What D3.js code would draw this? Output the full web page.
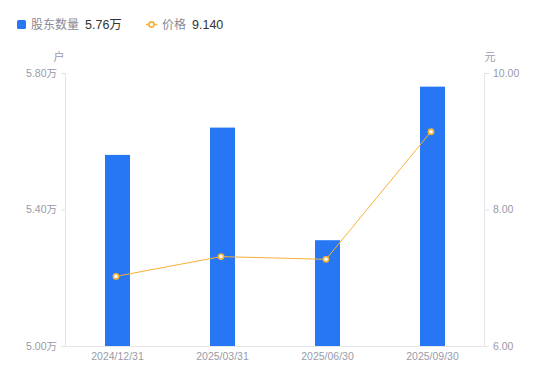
<!DOCTYPE html>
<html>
<head>
<meta charset="utf-8">
<script src="https://cdn.jsdelivr.net/npm/d3@7/dist/d3.min.js"></script>
<style>
html,body{margin:0;padding:0;background:#fff;}
svg{display:block;font-family:"Liberation Sans","Noto Sans CJK SC",sans-serif;}
</style>
</head>
<body>
<svg id="chart" width="550" height="381"></svg>
<script>
const categories = ["2024/12/31", "2025/03/31", "2025/06/30", "2025/09/30"];
const holders = [5.56, 5.64, 5.31, 5.76];   // 万户
const prices = [7.02, 7.31, 7.27, 9.14];     // 元
const leftTicks = [5.00, 5.40, 5.80];
const rightTicks = [6.00, 8.00, 10.00];

const FONT = "'Liberation Sans','Noto Sans CJK SC',sans-serif";
const svg = d3.select("#chart");
const W = 550, H = 381;
const m = {left: 65, right: 65, top: 73, bottom: 35};
const plotW = W - m.left - m.right;
const plotH = H - m.top - m.bottom;

const x = d3.scaleBand().domain(categories).range([m.left, m.left + plotW]).paddingInner(0).paddingOuter(0);
const yL = d3.scaleLinear().domain([5.0, 5.8]).range([m.top + plotH, m.top]);
const yR = d3.scaleLinear().domain([6.0, 10.0]).range([m.top + plotH, m.top]);

const barColor = "#2777f5";
const lineColor = "#f7b135";
const axisColor = "#e3e3e8";
const labelColor = "#9a9aa8";

// bars
const bw = 25;
svg.append("g").selectAll("rect").data(holders).join("rect")
  .attr("x", (d, i) => x(categories[i]) + x.bandwidth() / 2 - bw / 2)
  .attr("y", d => yL(d))
  .attr("width", bw)
  .attr("height", d => yL(5.0) - yL(d))
  .attr("fill", barColor);

// axes
const gL = svg.append("g").attr("transform", `translate(${m.left},0)`)
  .call(d3.axisLeft(yL).tickValues(leftTicks).tickSize(4).tickPadding(4).tickFormat(d => d.toFixed(2) + "万"));
const gR = svg.append("g").attr("transform", `translate(${m.left + plotW},0)`)
  .call(d3.axisRight(yR).tickValues(rightTicks).tickSize(4).tickPadding(4).tickFormat(d => d.toFixed(2)));
const gB = svg.append("g").attr("transform", `translate(0,${m.top + plotH})`)
  .call(d3.axisBottom(x).tickSize(0).tickPadding(7));

[gL, gR, gB].forEach(g => {
  g.select(".domain").attr("stroke", axisColor).attr("stroke-width", 1);
  g.selectAll(".tick line").attr("stroke", axisColor);
  g.selectAll(".tick text").attr("fill", labelColor).attr("font-size", 10.5)
    .attr("font-family", FONT);
});
gB.select(".domain").attr("d", `M${m.left},0.5H${m.left + plotW}`);
gL.select(".domain").attr("d", `M0.5,${m.top}V${m.top + plotH}`);
gR.select(".domain").attr("d", `M-0.5,${m.top}V${m.top + plotH}`);

// unit labels
svg.append("text").attr("x", 59).attr("y", 61).attr("text-anchor", "middle")
  .attr("fill", labelColor).attr("font-size", 11).text("户");
svg.append("text").attr("x", 490).attr("y", 61).attr("text-anchor", "middle")
  .attr("fill", labelColor).attr("font-size", 11).text("元");

// price line
const cx = (d, i) => x(categories[i]) + x.bandwidth() / 2 - 1.5;
const line = d3.line().x((d, i) => cx(d, i)).y(d => yR(d));
svg.append("path").datum(prices).attr("d", line)
  .attr("fill", "none").attr("stroke", lineColor).attr("stroke-width", 1);
svg.append("g").selectAll("circle").data(prices).join("circle")
  .attr("cx", cx).attr("cy", d => yR(d)).attr("r", 2.6)
  .attr("fill", "#fff").attr("stroke", lineColor).attr("stroke-width", 1.6);

// legend
const lg = svg.append("g").attr("font-size", 12);
lg.append("rect").attr("x", 17).attr("y", 20).attr("width", 9).attr("height", 9).attr("rx", 1.5).attr("fill", barColor);
lg.append("text").attr("x", 31).attr("y", 29).attr("fill", "#8a8a96").text("股东数量");
lg.append("text").attr("x", 85).attr("y", 29).attr("fill", "#333").attr("font-size", 12.5).text(holders[holders.length - 1].toFixed(2) + "万");
lg.append("line").attr("x1", 146).attr("x2", 157).attr("y1", 24.5).attr("y2", 24.5).attr("stroke", lineColor).attr("stroke-width", 1.5);
lg.append("circle").attr("cx", 151.5).attr("cy", 24.5).attr("r", 2.6).attr("fill", "#fff").attr("stroke", lineColor).attr("stroke-width", 1.6);
lg.append("text").attr("x", 162).attr("y", 29).attr("fill", "#8a8a96").text("价格");
lg.append("text").attr("x", 192).attr("y", 29).attr("fill", "#333").attr("font-size", 12.5).text(prices[prices.length - 1].toFixed(3));
</script>
</body>
</html>
